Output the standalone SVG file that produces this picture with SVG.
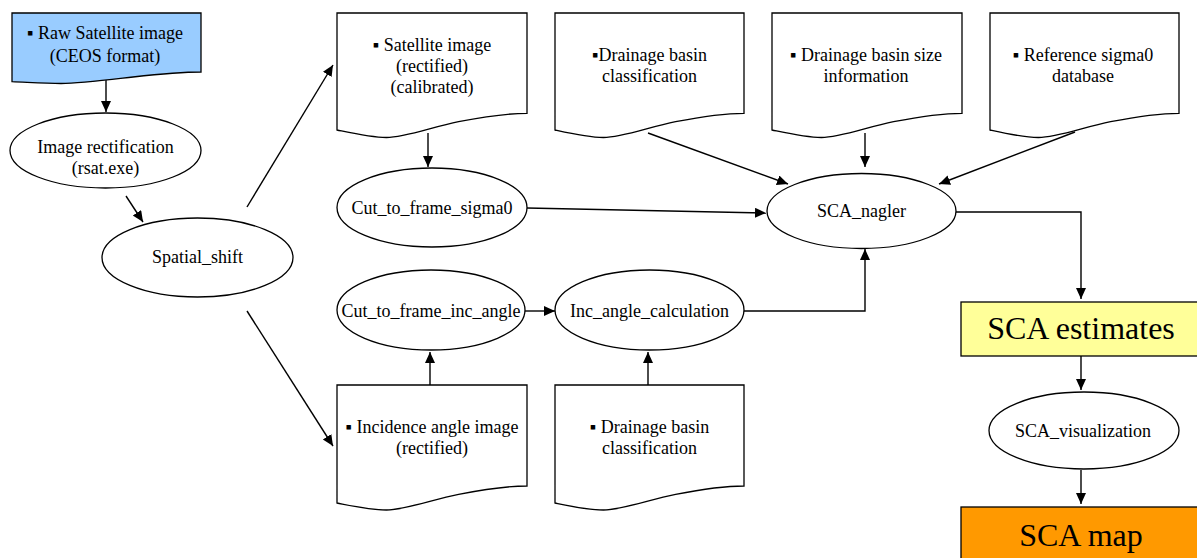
<svg xmlns="http://www.w3.org/2000/svg" width="1197" height="558" viewBox="0 0 1197 558">
<style>
  .shape{fill:#fff;stroke:#000;stroke-width:1.3}
  .t{font-family:"Liberation Serif","Times New Roman",serif;font-size:18px;fill:#000;text-anchor:middle}
  .big{font-size:32px}
  .c{fill:none;stroke:#000;stroke-width:1.4;marker-end:url(#ah)}
</style>
<defs>
  <marker id="ah" markerUnits="userSpaceOnUse" markerWidth="12" markerHeight="11" refX="11" refY="5" orient="auto">
    <path d="M0,0 L11,5 L0,10 Z" fill="#000"/>
  </marker>
</defs>
<rect width="1197" height="558" fill="#fff"/>

<g id="connectors">
  <path class="c" d="M106,80 V112"/>
  <path class="c" d="M126,196 L143,222"/>
  <path class="c" d="M247,207 L333,65"/>
  <path class="c" d="M247,311 L333,446"/>
  <path class="c" d="M428,133 V167"/>
  <path class="c" d="M527,208 L766,213"/>
  <path class="c" d="M648,133 L788,184"/>
  <path class="c" d="M865,133 V167"/>
  <path class="c" d="M1075,132 L939,184"/>
  <path class="c" d="M956,212 H1081 V299"/>
  <path class="c" d="M525,311 H555"/>
  <path class="c" d="M744,311 H865 V249"/>
  <path class="c" d="M430,385 V352"/>
  <path class="c" d="M648,385 V352"/>
  <path class="c" d="M1081,356 V390"/>
  <path class="c" d="M1081,470 V504"/>
</g>

<g id="raw-satellite">
  <path class="shape" style="fill:#99ccff" d="M12,13 H201 V72 C182,72 160,74 133,77 C107,80 80,83.5 61,83.5 C46,83.5 31,82.5 12,81.7 Z"/>
  <text class="t" x="105" y="39">▪ Raw Satellite image</text>
  <text class="t" x="105" y="62">(CEOS format)</text>
</g>

<g id="image-rectification">
  <ellipse class="shape" cx="105.5" cy="150.5" rx="95.5" ry="37.5"/>
  <text class="t" x="105.5" y="153">Image rectification</text>
  <text class="t" x="105.5" y="174">(rsat.exe)</text>
</g>

<g id="spatial-shift">
  <ellipse class="shape" cx="197.5" cy="257.5" rx="95.5" ry="39.5"/>
  <text class="t" x="197.5" y="263">Spatial_shift</text>
</g>

<g id="satellite-image">
  <path class="shape" d="M337,13 H527 V113.3 C508,113.3 485.2,116.5 458.6,121.7 C432,127 405.4,137.5 386.4,137.5 C371.2,137.5 356,134 337,130 Z"/>
  <text class="t" x="432" y="51">▪ Satellite image</text>
  <text class="t" x="432" y="72">(rectified)</text>
  <text class="t" x="432" y="93">(calibrated)</text>
</g>

<g id="drainage-class-top">
  <path class="shape" d="M555,13 H744 V113.3 C725,113.3 702.2,116.5 675.6,121.7 C649,127 622.4,137.5 603.4,137.5 C588.2,137.5 573,134 555,130 Z"/>
  <text class="t" x="649.5" y="61">▪Drainage basin</text>
  <text class="t" x="649.5" y="82">classification</text>
</g>

<g id="drainage-size">
  <path class="shape" d="M772,13 H962 V113.3 C943,113.3 920.2,116.5 893.6,121.7 C867,127 840.4,137.5 821.4,137.5 C806.2,137.5 791,134 772,130 Z"/>
  <text class="t" x="866" y="61">▪ Drainage basin size</text>
  <text class="t" x="866" y="82">information</text>
</g>

<g id="reference-sigma0">
  <path class="shape" d="M990,13 H1179 V113.3 C1160,113.3 1137.2,116.5 1110.6,121.7 C1084,127 1057.4,137.5 1038.4,137.5 C1023.2,137.5 1008,134 990,130 Z"/>
  <text class="t" x="1083" y="61">▪ Reference sigma0</text>
  <text class="t" x="1083" y="82">database</text>
</g>

<g id="cut-to-frame-sigma0">
  <ellipse class="shape" cx="432" cy="207.5" rx="95" ry="39.5"/>
  <text class="t" x="432" y="214">Cut_to_frame_sigma0</text>
</g>

<g id="sca-nagler">
  <ellipse class="shape" cx="861.5" cy="211" rx="94.5" ry="37.5"/>
  <text class="t" x="861.5" y="217">SCA_nagler</text>
</g>

<g id="cut-to-frame-inc-angle">
  <ellipse class="shape" cx="431" cy="310" rx="94" ry="40"/>
  <text class="t" x="431" y="317">Cut_to_frame_inc_angle</text>
</g>

<g id="inc-angle-calculation">
  <ellipse class="shape" cx="649.5" cy="310" rx="94.5" ry="40"/>
  <text class="t" x="649.5" y="317">Inc_angle_calculation</text>
</g>

<g id="incidence-angle-image">
  <path class="shape" d="M337,385 H527 V486 C508,486 485.2,489.2 458.6,494.4 C432,499.7 405.4,510 386.4,510 C371.2,510 356,506.7 337,503 Z"/>
  <text class="t" x="432" y="433">▪ Incidence angle image</text>
  <text class="t" x="432" y="454">(rectified)</text>
</g>

<g id="drainage-class-bottom">
  <path class="shape" d="M555,385 H744 V486 C725,486 702.2,489.2 675.6,494.4 C649,499.7 622.4,510 603.4,510 C588.2,510 573,506.7 555,503 Z"/>
  <text class="t" x="649.5" y="433">▪ Drainage basin</text>
  <text class="t" x="649.5" y="454">classification</text>
</g>

<g id="sca-estimates">
  <rect class="shape" style="fill:#ffff99" x="961" y="302" width="240" height="54"/>
  <text class="t big" x="1081" y="339">SCA estimates</text>
</g>

<g id="sca-visualization">
  <ellipse class="shape" cx="1084" cy="430.5" rx="95" ry="38.5"/>
  <text class="t" x="1083" y="437">SCA_visualization</text>
</g>

<g id="sca-map">
  <rect class="shape" style="fill:#ff9900" x="961" y="507" width="240" height="60"/>
  <text class="t big" x="1081" y="546">SCA map</text>
</g>
</svg>
